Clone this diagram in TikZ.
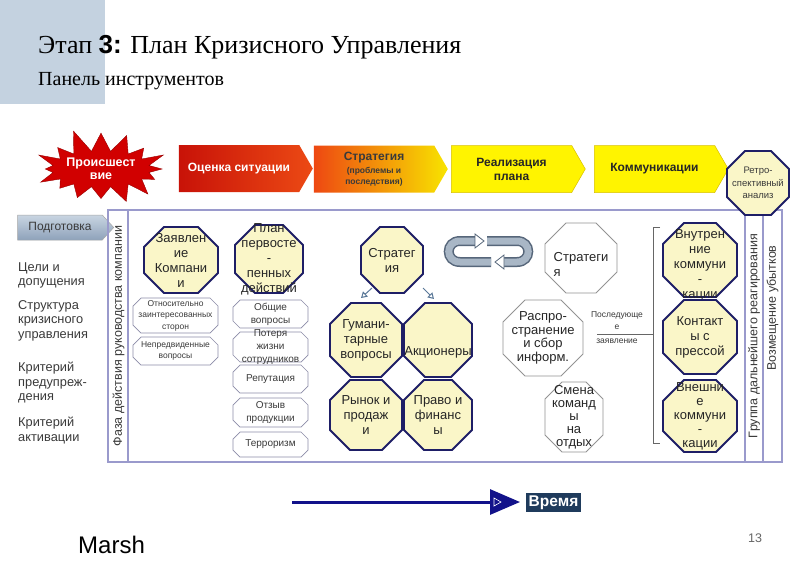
\documentclass[tikz,border=0pt]{standalone}
\usepackage{fontspec}
\setmainfont{Liberation Sans}
\newfontfamily\ttlserif{Liberation Serif}
\usetikzlibrary{shapes.symbols,shapes.misc,arrows.meta,calc}

\definecolor{bgblue}{HTML}{C4D2E0}
\definecolor{octyel}{HTML}{FAF6C8}
\definecolor{octnavy}{HTML}{1E1E66}
\definecolor{panelline}{HTML}{9A9ACC}
\definecolor{boxline}{HTML}{8C8CA8}
\definecolor{txtgrey}{HTML}{3A3A3A}
\definecolor{timenavy}{HTML}{12128A}
\definecolor{timebox}{HTML}{1F3B5C}
\definecolor{ocL}{HTML}{C81208}
\definecolor{ocR}{HTML}{EC4A14}
\definecolor{stL}{HTML}{EE4812}
\definecolor{stR}{HTML}{F8E400}
\definecolor{realY}{HTML}{FFF400}
\definecolor{realD}{HTML}{D8C000}
\definecolor{podgT}{HTML}{C9D5E2}
\definecolor{podgB}{HTML}{8EA2BA}
\definecolor{cycD}{HTML}{56667A}
\definecolor{cycL}{HTML}{A9B7C6}
\definecolor{sarrc}{HTML}{5A7898}

\newcommand\myoct[9]{%
 \draw[#7] (#2-#4+#6,#3-#5) -- (#2+#4-#6,#3-#5) -- (#2+#4,#3-#5+#6) -- (#2+#4,#3+#5-#6)
   -- (#2+#4-#6,#3+#5) -- (#2-#4+#6,#3+#5) -- (#2-#4,#3+#5-#6) -- (#2-#4,#3-#5+#6) -- cycle;
 \node[#8, minimum width=2*#4, minimum height=2*#5] (#1) at (#2,#3) {#9};
}
\newcommand\subfnt{\fontsize{8.5}{10.5}\selectfont}

\tikzset{
 yoct/.style={fill=octyel, draw=octnavy, line width=1.8pt, line join=miter},
 goct/.style={fill=white, draw=gray!85, line width=0.8pt},
 sbox/.style={fill=white, draw=boxline, line width=0.7pt},
 otxt/.style={align=center, inner sep=0pt, text=black!85, font=\fontsize{13}{15}\selectfont},
 stxt/.style={align=center, inner sep=0pt, text=txtgrey, font=\fontsize{8.5}{11.5}\selectfont},
 s2txt/.style={align=center, inner sep=0pt, text=txtgrey, font=\fontsize{10}{13}\selectfont},
 rtxt/.style={align=center, inner sep=0pt, text=txtgrey, font=\fontsize{9.5}{12.5}\selectfont},
 chev/.style={signal, signal to=east, signal pointer angle=120, minimum width=134pt,
   minimum height=47pt, inner sep=0pt, align=center, font=\bfseries\fontsize{12}{14}\selectfont},
 listtxt/.style={anchor=north west, align=left, inner sep=0pt, text=txtgrey,
   font=\fontsize{12.8}{14.5}\selectfont},
 vtxt/.style={rotate=90, inner sep=0pt, text=txtgrey, font=\fontsize{12.5}{14}\selectfont},
 panel/.style={draw=panelline, line width=1.1pt},
 sarr/.style={draw=sarrc, line width=1pt, -{Triangle[open, length=6pt, width=7pt]}},
 brk/.style={draw=gray!80!black, line width=0.8pt},
 timeline/.style={draw=timenavy, line width=3pt, -{Triangle[length=30pt, width=25pt]}},
}

\begin{document}
\begin{tikzpicture}[x=1pt,y=-1pt]
\useasboundingbox (0,0) rectangle (800,571);
\fill[white] (0,0) rectangle (800,571);
\fill[bgblue] (0,0) rectangle (105,104);

% title
\node[anchor=base west, inner sep=0pt] (title) at (38,53)
  {\fontsize{26}{30}\selectfont{\ttlserif Этап }{\bfseries 3:}{\ttlserif{} План Кризисного Управления}};
\node[anchor=base west, inner sep=0pt] (subtitle) at (38,85)
  {\fontsize{20}{24}\selectfont\ttlserif Панель инструментов};

% starburst
\node[starburst, starburst points=16, starburst point height=24pt, random starburst=11,
  minimum width=134pt, minimum height=84pt, fill=red!82!black, draw=red!60!black,
  inner sep=0pt, align=center, text=white, font=\bfseries\fontsize{12.5}{13}\selectfont]
  (incid) at (101,169) {Происшест\\вие};

% process chevrons
\node[chev, left color=ocL, right color=ocR, text=white] (ocenka) at (239,168.5) {Оценка ситуации};
\node[chev, left color=stL, right color=stR, text=txtgrey] (strat) at (374,169)
  {Стратегия\\[-1pt]{\subfnt(проблемы и}\\[-3pt]{\subfnt последствия)}};
\node[chev, fill=realY, draw=realD, line width=0.5pt, text=black!85] (real) at (511.5,169) {Реализация\\плана};
\node[chev, fill=realY, draw=realD, line width=0.5pt, text=black!85] (komm) at (654.5,169) {Коммуникации};
\node[chev, signal pointer angle=95, minimum width=96pt, minimum height=25pt, top color=podgT,
  bottom color=podgB, draw=gray!70, line width=0.5pt, text=txtgrey,
  font=\fontsize{12}{14}\selectfont] (podg) at (60,227.5) {Подготовка};

% main panel
\draw[panel] (108,210) rectangle (782,462);
\draw[panel] (128,210) -- (128,462);
\draw[panel] (745,210) -- (745,462);
\draw[panel] (763,210) -- (763,462);
\node[vtxt] (faza) at (118.5,336) {Фаза действия руководства компании};
\node[vtxt] (gruppa) at (754,336) {Группа дальнейшего реагирования};
\node[vtxt] (vozm) at (772.5,308) {Возмещение убытков};

% left list
\node[listtxt] (l1) at (18,262) {Цели и\\допущения};
\node[listtxt] (l2) at (18,300) {Структура\\кризисного\\управления};
\node[listtxt] (l3) at (18,362) {Критерий\\предупреж-\\дения};
\node[listtxt] (l4) at (18,417) {Критерий\\активации};

% retro octagon
\myoct{retro}{758}{183}{31}{32}{18}{yoct}{rtxt}{Ретро-\\спективный\\анализ}

% column 1
\myoct{zayav}{181}{260}{37}{33}{20}{yoct}{otxt}{Заявлен\\ие\\Компани\\и}
\myoct{otn}{175.5}{315.5}{42.5}{17.5}{8}{sbox}{stxt}{Относительно\\заинтересованных\\сторон}
\myoct{nepr}{175.5}{351}{42.5}{14}{8}{sbox}{stxt}{Непредвиденные\\вопросы}

% column 2
\myoct{obsh}{270.5}{314}{37.5}{14}{7}{sbox}{s2txt}{Общие\\вопросы}
\myoct{poter}{270.5}{347}{37.5}{15}{7}{sbox}{s2txt}{Потеря\\жизни\\сотрудников}
\myoct{repu}{270.5}{379}{37.5}{14}{7}{sbox}{s2txt}{Репутация}
\myoct{otzyv}{270.5}{412.5}{37.5}{14.5}{7}{sbox}{s2txt}{Отзыв\\продукции}
\myoct{terr}{270.5}{444.5}{37.5}{12.5}{7}{sbox}{s2txt}{Терроризм}
\myoct{plan}{269}{259}{34}{34}{20}{yoct}{otxt}{План\\первосте\\-\\пенных\\действий}

% column 3
\myoct{strg}{392}{260}{31}{33}{19}{yoct}{otxt}{Стратег\\ия}
\myoct{guman}{366}{340}{36}{37}{21}{yoct}{otxt}{Гумани-\\тарные\\вопросы}
\myoct{akc}{438}{340}{34}{37}{21}{yoct}{otxt,yshift=-12pt}{Акционеры}
\myoct{rynok}{366}{415}{36}{35}{20}{yoct}{otxt}{Рынок и\\продаж\\и}
\myoct{pravo}{438}{415}{34}{35}{20}{yoct}{otxt}{Право и\\финанс\\ы}
\coordinate (a1s) at (372,288);
\coordinate (a1e) at (361,298);
\coordinate (a2s) at (423,288);
\coordinate (a2e) at (434,299);
\draw[sarr] (a1s) -- (a1e);
\draw[sarr] (a2s) -- (a2e);

% cycle arrows
\draw[cycD, line width=10pt] (477,241) -- (460,241) .. controls (445,241) and (445,262) .. (460,262) -- (491,262);
\draw[cycL, line width=7pt] (477,241) -- (460,241) .. controls (445,241) and (445,262) .. (460,262) -- (491,262);
\filldraw[fill=white, draw=cycD, line width=0.8pt] (475,234) -- (484,241) -- (475,248) -- cycle;
\draw[cycD, line width=10pt] (487,241) -- (517,241) .. controls (532,241) and (532,262) .. (517,262) -- (503,262);
\draw[cycL, line width=7pt] (487,241) -- (517,241) .. controls (532,241) and (532,262) .. (517,262) -- (503,262);
\filldraw[fill=white, draw=cycD, line width=0.8pt] (504,255) -- (495,262) -- (504,269) -- cycle;

% column 4
\myoct{strw}{581}{258}{36}{35}{21}{goct}{otxt,align=left,yshift=-6pt}{Стратеги\\я}
\myoct{rasp}{543}{338}{40}{38}{22}{goct}{otxt,font=\fontsize{13}{13.5}\selectfont}{Распро-\\странение\\и сбор\\информ.}
\myoct{smena}{574}{417}{29}{35}{17}{goct}{otxt,font=\fontsize{13}{13}\selectfont}{Смена\\команд\\ы\\на\\отдых}

\node[align=center, inner sep=0pt, text=txtgrey, font=\fontsize{8.5}{12}\selectfont] (posl) at (617,321) {Последующе\\е};
\node[inner sep=0pt, text=txtgrey, font=\fontsize{8.5}{12}\selectfont] (zayavl) at (617,341) {заявление};
\coordinate (pls) at (597,334);
\coordinate (ple) at (653,334);
\draw[brk] (pls) -- (ple);
\draw[brk] (660,227) -- (653,227) -- (653,443) -- (660,443);

% right column
\myoct{vnutr}{700}{260}{37}{37}{21}{yoct}{otxt,yshift=-5pt}{Внутрен\\ние\\коммуни\\-\\кации}
\myoct{press}{700}{337}{37}{37}{21}{yoct}{otxt}{Контакт\\ы с\\прессой}
\myoct{vnesh}{700}{416}{37}{36}{21}{yoct}{otxt,font=\fontsize{13}{14}\selectfont}{Внешни\\е\\коммуни\\-\\кации}

% time arrow
\coordinate (tstart) at (292,502);
\coordinate (ttip) at (520,502);
\draw[timeline] (tstart) -- (ttip);
\draw[white, line width=0.6pt] (494,498) -- (501,502) -- (494,506) -- cycle;
\node[fill=timebox, text=white, inner xsep=3pt, inner ysep=2pt, minimum height=19pt,
  font=\bfseries\fontsize{15.5}{17}\selectfont] (time) at (553.5,502.5) {Время};

% footer
\node[anchor=base west, inner sep=0pt, font=\fontsize{24}{28}\selectfont] (marsh) at (78,553) {Marsh};
\node[anchor=base west, inner sep=0pt, text=gray!80!black, font=\fontsize{12.5}{14}\selectfont] (pnum) at (748,542) {13};
\end{tikzpicture}
\end{document}
